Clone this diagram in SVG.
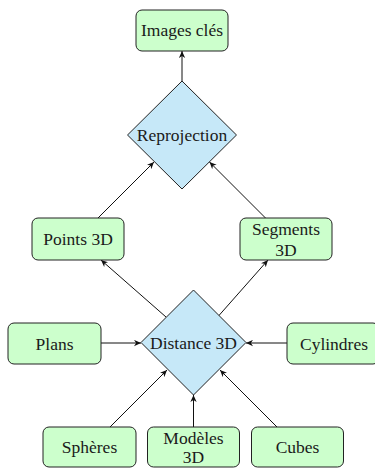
<svg xmlns="http://www.w3.org/2000/svg" width="375" height="468" viewBox="0 0 375 468">
<style>
.box{fill:#ccffcc;stroke:#222;stroke-width:1}
.dia{fill:#c6e8f8;stroke:#222;stroke-width:1}
.t{fill:#1a1a1a;text-anchor:middle;font-family:'Liberation Serif','DejaVu Serif',serif;font-size:17.5px}
.e{stroke:#111;stroke-width:1;fill:none;marker-end:url(#ah)}
</style>
<defs>
<marker id="ah" viewBox="0 0 10 10" refX="10" refY="5" markerWidth="7" markerHeight="7" markerUnits="userSpaceOnUse" orient="auto">
<path d="M0,0.5 L10,5 L0,9.5 L3,5 Z" fill="#111"/>
</marker>
</defs>
<g id="connectors">
<line class="e" x1="182" y1="81" x2="182" y2="51"/>
<line class="e" x1="98" y1="218" x2="154" y2="162"/>
<line class="e" x1="265.5" y1="218" x2="209.5" y2="162"/>
<line class="e" x1="166" y1="317" x2="101" y2="260"/>
<line class="e" x1="218.5" y1="316" x2="268" y2="260"/>
<line class="e" x1="101" y1="343" x2="141" y2="343"/>
<line class="e" x1="287" y1="343" x2="246" y2="343"/>
<line class="e" x1="110" y1="427" x2="167" y2="370"/>
<line class="e" x1="193.5" y1="427" x2="193.5" y2="395"/>
<line class="e" x1="277" y1="427" x2="220" y2="370"/>
</g>
<g id="images-cles"><rect class="box" x="136" y="10" width="92" height="41" rx="6"/><text class="t" x="182" y="36">Images clés</text></g>
<g id="reprojection"><polygon class="dia" points="182,81 236.5,135 182,189 127.5,135"/><text class="t" x="182" y="140.5">Reprojection</text></g>
<g id="points-3d"><rect class="box" x="32" y="218" width="92" height="42" rx="6"/><text class="t" x="78" y="245">Points 3D</text></g>
<g id="segments-3d"><rect class="box" x="240" y="218" width="92" height="42" rx="6"/><text class="t" x="286" y="235">Segments</text><text class="t" x="286" y="255.5">3D</text></g>
<g id="distance-3d"><polygon class="dia" points="193.5,290 246,342.5 193.5,395 141,342.5"/><text class="t" x="193.5" y="349">Distance 3D</text></g>
<g id="plans"><rect class="box" x="8" y="323" width="93" height="41" rx="6"/><text class="t" x="54.5" y="349.5">Plans</text></g>
<g id="cylindres"><rect class="box" x="287" y="323" width="92" height="41" rx="6"/><text class="t" x="334" y="349.5">Cylindres</text></g>
<g id="spheres"><rect class="box" x="43" y="427" width="93" height="40" rx="6"/><text class="t" x="89.5" y="453">Sphères</text></g>
<g id="modeles-3d"><rect class="box" x="147.5" y="427" width="92" height="40" rx="6"/><text class="t" x="193.5" y="443.5">Modèles</text><text class="t" x="193.5" y="463">3D</text></g>
<g id="cubes"><rect class="box" x="251.5" y="427" width="92" height="40" rx="6"/><text class="t" x="297.5" y="453">Cubes</text></g>
</svg>
